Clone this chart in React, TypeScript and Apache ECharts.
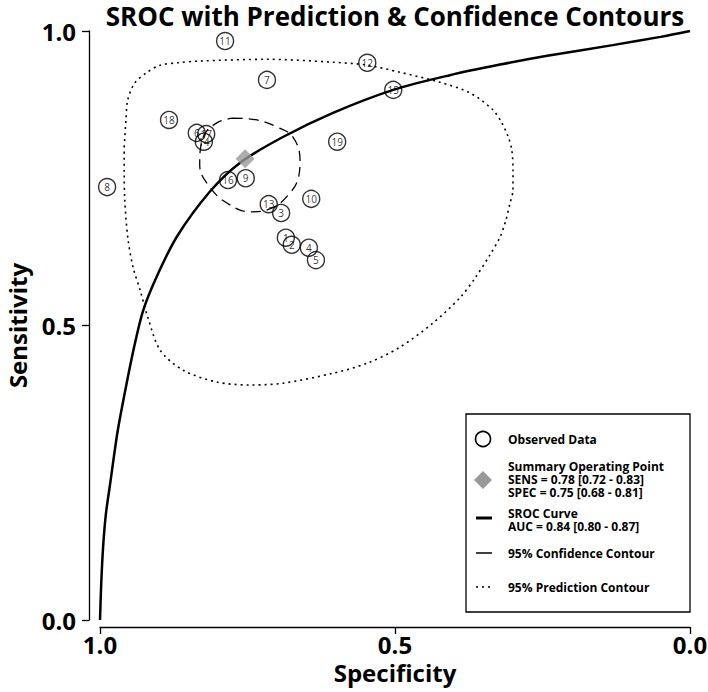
import React, { useEffect, useRef } from "react";
import * as echarts from "echarts";

const TITLE = "SROC with Prediction & Confidence Contours";
const X_NAME = "Specificity";
const Y_NAME = "Sensitivity";

const studyIds = [1, 2, 3, 4, 5, 6, 7, 8, 9, 10, 11, 12, 13, 14, 15, 16, 17, 18, 19];
const studySpec = [0.685, 0.675, 0.693, 0.646, 0.634, 0.836, 0.717, 0.988, 0.753, 0.642, 0.788, 0.547, 0.714, 0.824, 0.503, 0.783, 0.82, 0.883, 0.598];
const studySens = [0.649, 0.637, 0.691, 0.632, 0.611, 0.827, 0.917, 0.735, 0.75, 0.715, 0.983, 0.946, 0.706, 0.812, 0.9, 0.747, 0.825, 0.849, 0.812];

const summarySpec = 0.754;
const summarySens = 0.783;

const srocSpec = [1.0, 0.998, 0.995, 0.99, 0.983, 0.971, 0.961, 0.944, 0.927, 0.903, 0.869, 0.814, 0.763, 0.69, 0.605, 0.503, 0.407, 0.322, 0.242, 0.131, 0.05, 0.0];
const srocSens = [0.0, 0.06, 0.12, 0.18, 0.23, 0.315, 0.37, 0.455, 0.525, 0.585, 0.652, 0.727, 0.776, 0.82, 0.861, 0.9, 0.925, 0.943, 0.958, 0.976, 0.99, 1.0];

const confSpec = [0.775, 0.734, 0.7, 0.673, 0.661, 0.664, 0.678, 0.707, 0.746, 0.785, 0.814, 0.831, 0.825, 0.802, 0.775];
const confSens = [0.852, 0.849, 0.837, 0.82, 0.781, 0.75, 0.725, 0.7, 0.693, 0.708, 0.735, 0.772, 0.82, 0.844, 0.852];

const predSpec = [0.959, 0.956, 0.953, 0.941, 0.92, 0.898, 0.869, 0.831, 0.717, 0.605, 0.547, 0.492, 0.424, 0.373, 0.334, 0.319, 0.308, 0.302, 0.3, 0.3, 0.305, 0.312, 0.322, 0.339, 0.364, 0.39, 0.436, 0.492, 0.547, 0.605, 0.69, 0.746, 0.802, 0.859, 0.898, 0.919, 0.932, 0.944, 0.953, 0.958, 0.959, 0.959];
const predSens = [0.803, 0.849, 0.883, 0.912, 0.93, 0.942, 0.946, 0.949, 0.952, 0.947, 0.942, 0.93, 0.913, 0.895, 0.866, 0.844, 0.82, 0.798, 0.764, 0.73, 0.708, 0.679, 0.65, 0.62, 0.581, 0.547, 0.504, 0.463, 0.436, 0.419, 0.402, 0.399, 0.404, 0.424, 0.458, 0.514, 0.56, 0.599, 0.65, 0.713, 0.76, 0.803];

const legendTexts = [
  "Observed Data",
  "Summary Operating Point\nSENS = 0.78 [0.72 - 0.83]\nSPEC = 0.75 [0.68 - 0.81]",
  "SROC Curve\nAUC = 0.84 [0.80 - 0.87]",
  "95% Confidence Contour",
  "95% Prediction Contour",
];

const FONT = "'Open Sans', 'Noto Sans', sans-serif";

export default function App() {
  const ref = useRef<HTMLDivElement>(null);

  useEffect(() => {
    document.body.style.margin = "0";
    if (!ref.current) return;
    const chart = echarts.init(ref.current, null, { renderer: "svg" });

    const pairs = (xs: number[], ys: number[]) => xs.map((x, i) => [x, ys[i]]);

    const legendCenters = [439, 479, 519.5, 553, 587];
    const textEls = legendTexts.map((t, i) => ({
      type: "text",
      style: {
        text: t,
        x: 508,
        y: legendCenters[i],
        fontFamily: FONT,
        fontWeight: "bold",
        fontSize: 12,
        lineHeight: 13,
        fill: "#000",
        verticalAlign: "middle",
        align: "left",
      },
      z: 101,
    }));

    const axisFont = { fontFamily: FONT, fontWeight: "bold", fontSize: 24, color: "#000" };

    const option: any = {
      animation: false,
      grid: { left: 100, right: 18, top: 31, bottom: 72, outerBoundsMode: "none", containLabel: false },
      xAxis: {
        type: "value",
        inverse: true,
        min: 0,
        max: 1,
        interval: 0.5,
        offset: 7,
        name: X_NAME,
        nameLocation: "middle",
        nameGap: 32,
        nameTextStyle: axisFont,
        axisLine: { show: true, onZero: false, lineStyle: { color: "#000", width: 1.3 } },
        axisTick: { show: true, length: 7, lineStyle: { color: "#000", width: 1.3 } },
        axisLabel: {
          formatter: (v: number) => v.toFixed(1),
          ...axisFont,
          margin: 5,
        },
        splitLine: { show: false },
      },
      yAxis: {
        type: "value",
        min: 0,
        max: 1,
        interval: 0.5,
        offset: 11,
        name: Y_NAME,
        nameLocation: "middle",
        nameGap: 60,
        nameTextStyle: axisFont,
        axisLine: { show: true, onZero: false, lineStyle: { color: "#000", width: 1.3 } },
        axisTick: { show: true, length: 7, lineStyle: { color: "#000", width: 1.3 } },
        axisLabel: {
          formatter: (v: number) => v.toFixed(1),
          ...axisFont,
          margin: 13,
        },
        splitLine: { show: false },
      },
      series: [
        {
          type: "line",
          data: pairs(predSpec, predSens),
          showSymbol: false,
          smooth: 0.3,
          silent: true,
          lineStyle: { color: "#000", width: 1.6, type: [2, 4] },
          z: 2,
        },
        {
          type: "line",
          data: pairs(confSpec, confSens),
          showSymbol: false,
          smooth: 0.4,
          silent: true,
          lineStyle: { color: "#000", width: 1.3, type: [10, 6] },
          z: 2,
        },
        {
          type: "line",
          data: pairs(srocSpec, srocSens),
          showSymbol: false,
          smooth: 0.3,
          silent: true,
          lineStyle: { color: "#000", width: 2.5 },
          z: 3,
        },
        {
          type: "scatter",
          data: studySpec.map((x, i) => [x, studySens[i], studyIds[i]]),
          symbol: "circle",
          symbolSize: 17,
          itemStyle: { color: "rgba(255,255,255,0)", borderColor: "#000", borderWidth: 1.4 },
          label: {
            show: true,
            position: "inside",
            formatter: (p: any) => String(p.data[2]),
            fontFamily: FONT,
            fontSize: 10,
            color: "#000",
          },
          z: 4,
        },
        {
          type: "scatter",
          data: [[summarySpec, summarySens]],
          symbol: "diamond",
          symbolSize: 19,
          itemStyle: { color: "#999999" },
          z: 5,
        },
      ],
      graphic: [
        {
          type: "text",
          style: {
            text: TITLE,
            x: 395,
            y: 16,
            fontFamily: FONT,
            fontWeight: "bold",
            fontSize: 26,
            fill: "#000",
            align: "center",
            verticalAlign: "middle",
          },
          z: 101,
        },
        {
          type: "rect",
          shape: { x: 466, y: 414, width: 224, height: 198 },
          style: { fill: "#fff", stroke: "#000", lineWidth: 1.3 },
          z: 100,
        },
        {
          type: "circle",
          shape: { cx: 483, cy: 439, r: 7.5 },
          style: { fill: "none", stroke: "#000", lineWidth: 1.6 },
          z: 101,
        },
        {
          type: "polygon",
          shape: { points: [[483, 471], [492, 480], [483, 489], [474, 480]] },
          style: { fill: "#999999" },
          z: 101,
        },
        {
          type: "line",
          shape: { x1: 476, y1: 518, x2: 492, y2: 518 },
          style: { stroke: "#000", lineWidth: 3 },
          z: 101,
        },
        {
          type: "line",
          shape: { x1: 476, y1: 553, x2: 492, y2: 553 },
          style: { stroke: "#000", lineWidth: 1.5 },
          z: 101,
        },
        {
          type: "line",
          shape: { x1: 476, y1: 587, x2: 492, y2: 587 },
          style: { stroke: "#000", lineWidth: 1.5, lineDash: [2, 4] },
          z: 101,
        },
        ...textEls,
      ],
    };

    chart.setOption(option);
    return () => chart.dispose();
  }, []);

  return <div ref={ref} style={{ width: 708, height: 692 }} />;
}
